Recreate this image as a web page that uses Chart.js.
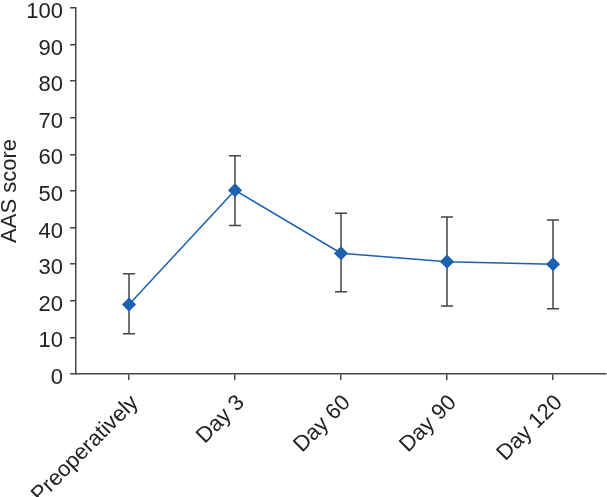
<!DOCTYPE html>
<html lang="en">
<head>
    <meta charset="UTF-8">
    <title>AAS score</title>
    <script src="https://cdn.jsdelivr.net/npm/chart.js"></script>
    <style>
        body { margin: 0; background: #fff; }
        canvas { display: block; }
    </style>
</head>
<body>
    <canvas id="aasChart" width="607" height="497"></canvas>

    <script>
        const labels = ['Preoperatively', 'Day 3', 'Day 60', 'Day 90', 'Day 120'];
        const means = [19.0, 50.2, 33.0, 30.7, 30.0];
        const upper = [27.4, 59.6, 43.9, 42.9, 42.1];
        const lower = [11.0, 40.6, 22.5, 18.6, 17.8];

        const axisColor = '#444';
        const fontFamily = 'Arial, "Liberation Sans", Helvetica, sans-serif';

        // draws the whiskers under the line, using the chart's own scales
        const errorBars = {
            id: 'errorBars',
            beforeDatasetsDraw(chart) {
                const c = chart.ctx;
                const xs = chart.scales.x;
                const ys = chart.scales.y;
                c.save();
                c.strokeStyle = axisColor;
                c.lineWidth = 1.5;
                for (let i = 0; i < labels.length; i++) {
                    const x = xs.getPixelForValue(i);
                    const yt = ys.getPixelForValue(upper[i]);
                    const yb = ys.getPixelForValue(lower[i]);
                    c.beginPath();
                    c.moveTo(x, yt); c.lineTo(x, yb);
                    c.moveTo(x - 6, yt); c.lineTo(x + 6, yt);
                    c.moveTo(x - 6, yb); c.lineTo(x + 6, yb);
                    c.stroke();
                }
                c.restore();
            }
        };

        const ctx = document.getElementById('aasChart').getContext('2d');
        new Chart(ctx, {
            type: 'line',
            data: {
                labels: labels,
                datasets: [{
                    data: means,
                    borderColor: '#1c62b0',
                    backgroundColor: '#1c62b0',
                    borderWidth: 1.5,
                    pointStyle: 'rectRot',
                    pointRadius: 6,
                    pointHoverRadius: 6,
                    tension: 0
                }]
            },
            options: {
                responsive: false,
                animation: false,
                layout: { autoPadding: false, padding: { top: 0, right: 1, bottom: 0, left: 0 } },
                plugins: {
                    legend: { display: false },
                    tooltip: { enabled: false }
                },
                scales: {
                    x: {
                        offset: true,
                        afterFit: (s) => { s.height = 123; s.paddingRight = 0; },
                        grid: {
                            drawOnChartArea: false,
                            drawTicks: true,
                            tickLength: 6,
                            color: axisColor,
                            lineWidth: 1.5
                        },
                        border: { color: axisColor, width: 1.5 },
                        ticks: {
                            color: '#222',
                            font: { size: 22, family: fontFamily },
                            minRotation: 45,
                            maxRotation: 45,
                            padding: 10,
                            labelOffset: 6
                        }
                    },
                    y: {
                        min: 0,
                        max: 100,
                        afterFit: (s) => { s.width = 76; s.paddingTop = 8; },
                        grid: {
                            drawOnChartArea: false,
                            drawTicks: true,
                            tickLength: 6,
                            color: axisColor,
                            lineWidth: 1.5
                        },
                        border: { color: axisColor, width: 1.5 },
                        ticks: {
                            stepSize: 10,
                            color: '#222',
                            font: { size: 22, family: fontFamily },
                            padding: 7,
                            labelOffset: 4
                        },
                        title: {
                            display: true,
                            text: 'AAS score',
                            color: '#222',
                            font: { size: 22, family: fontFamily },
                            padding: { top: -3, bottom: 3 }
                        }
                    }
                }
            },
            plugins: [errorBars]
        });
    </script>
</body>
</html>
